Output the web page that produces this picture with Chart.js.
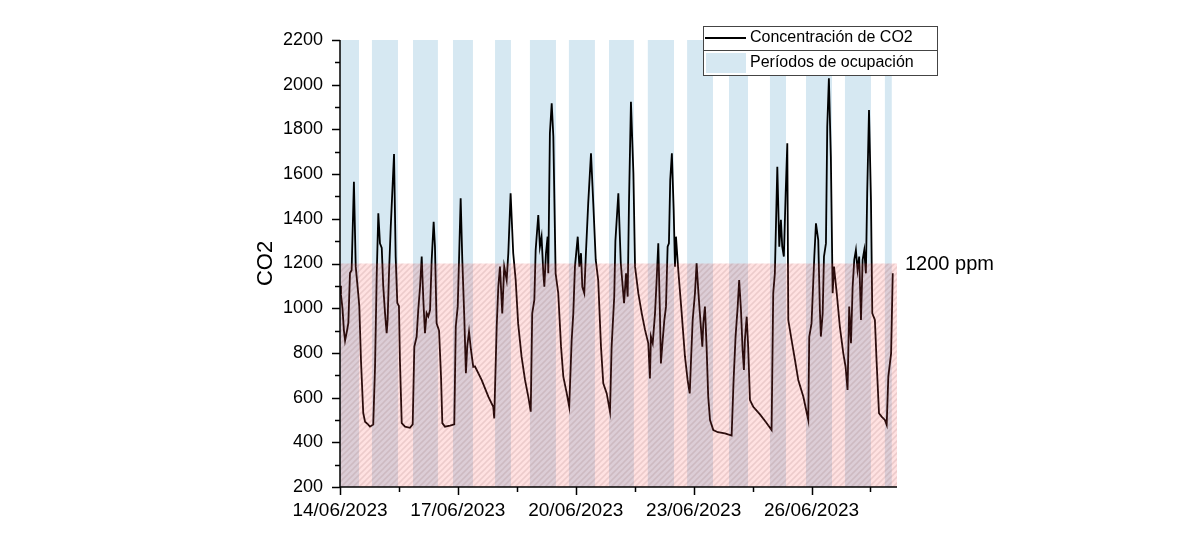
<!DOCTYPE html>
<html>
<head>
<meta charset="utf-8">
<script src="https://cdn.jsdelivr.net/npm/chart.js@4.4.0/dist/chart.umd.min.js"></script>
<style>
  body { margin: 0; background: #fff; }
</style>
</head>
<body>
<canvas id="co2-chart" width="1200" height="550"></canvas>
<script>
// hours since 14/06/2023 00:00
const hours = [
  0, 0.6, 1.5, 2.4, 3.1, 4.3, 5.1, 6.1, 7.1, 8.5, 9.6, 11.2, 11.8, 12.8, 14.2, 15.3, 17.1, 18.3, 20.3,
  21.4, 22.4, 23.4, 24.4, 25.5, 26.4, 27.5, 28.5, 29.1, 29.9, 31.0, 33.0, 34.0, 35.0, 36.0, 36.6, 37.7,
  39.7, 42.7, 44.4, 45.4, 46.8, 47.8, 48.9, 49.9, 50.9, 51.9, 52.9, 53.9, 55.0, 56.0, 57.2, 58.0, 59.0,
  60.5, 61.7, 62.5, 64.1, 67.2, 69.8, 70.7, 71.9, 72.7, 73.7, 74.7, 75.9, 76.9, 77.7, 78.8, 80.0, 81.4,
  82.4, 86.5, 90.6, 93.6, 94.2, 95.7, 96.7, 97.7, 99.1, 100.3, 101.8, 102.8, 104.2, 105.8, 107.3, 108.8,
  110.9, 113.0, 115.0, 116.5, 117.4, 118.7, 119.5, 121.1, 122.1, 123.1, 124.2, 124.8, 125.8, 126.8, 127.2,
  128.2, 129.3, 130.3, 131.7, 133.3, 135.0, 136.4, 138.5, 140.0, 141.5, 142.5, 143.5, 145.2, 146.2, 147.2,
  148.0, 149.2, 150.2, 151.6, 153.3, 154.7, 156.2, 157.7, 159.4, 160.8, 162.9, 164.9, 165.9, 167.5, 168.2,
  170.0, 171.5, 173.5, 174.7, 175.7, 176.5, 177.7, 179.2, 180.2, 182.2, 184.3, 186.3, 188.3, 189.3, 189.9,
  191.0, 192.4, 193.4, 194.4, 195.4, 196.0, 197.1, 198.1, 199.1, 200.1, 200.9, 201.7, 202.7, 203.8, 204.6,
  205.2, 206.6, 208.7, 210.7, 212.3, 213.6, 214.4, 215.4, 216.8, 217.8, 218.8, 219.8, 221.3, 221.9, 222.9,
  223.9, 224.9, 226.0, 228.0, 230.8, 235.1, 239.2, 240.4, 241.6, 242.9, 243.8, 244.9, 245.9, 246.7, 247.3,
  248.4, 249.3, 250.4, 252.4, 256.5, 260.2, 263.6, 264.6, 265.6, 267.1, 268.3, 269.3, 270.1, 271.1, 272.2,
  273.2, 273.8, 275.8, 277.9, 279.9, 283.0, 286.0, 286.6, 288.0, 289.7, 290.7, 292.1, 293.1, 293.7, 294.8,
  295.6, 296.8, 297.6, 298.6, 299.8, 300.9, 301.7, 303.4, 305.3, 307.4, 308.8, 310.0, 311.0, 312.1, 313.1,
  314.1, 315.1, 316.1, 317.1, 318.2, 319.2, 320.2, 321.2, 322.0, 323.1, 324.3, 325.1, 326.7, 327.7, 329.2,
  330.8, 332.8, 333.9, 334.9, 336.6, 337.6
];
const co2 = [
  1100, 1060, 1000, 900, 855, 900, 934, 1157, 1170, 1566, 1186, 1060, 1007, 768, 531, 492, 480, 470, 480,
  738, 1141, 1425, 1290, 1270, 1100, 978, 888, 950, 1150, 1365, 1690, 1230, 1023, 1010, 768, 486,
  470, 465, 480, 828, 872, 992, 1096, 1231, 1037, 888, 978, 963, 992, 1216, 1387, 1275, 932,
  900, 694, 486, 470, 475, 480, 918, 1007, 1216, 1492, 1216, 963, 709, 828, 895, 813, 738,
  740, 679, 604, 559, 507, 918, 1096, 1186, 977, 1186, 1126, 1246, 1514, 1246, 1126, 932,
  783, 679, 604, 537, 977, 1037, 1260, 1417, 1275, 1320, 1156, 1096, 1246, 1320, 1156,
  1783, 1917, 1768, 1156, 1067, 828, 694, 619, 559, 858, 977, 1186, 1320, 1186, 1246,
  1096, 1067, 1246, 1469, 1693, 1469, 1216, 1126, 828, 664, 619, 537, 828, 1052, 1300,
  1514, 1201, 1022, 1156, 1052, 1469, 1924, 1604, 1186, 1067, 977, 903, 843, 686, 873,
  843, 977, 1126, 1290, 977, 753, 858, 947, 1007, 1275, 1290, 1574, 1693, 1439, 1186,
  1320, 1171, 977, 783, 679, 619, 768, 947, 1067, 1201, 1082, 977, 828, 932, 1007,
  828, 604, 500, 455, 445, 440, 430, 679, 873, 1007, 1126, 992, 813, 724, 858,
  962, 828, 589, 559, 525, 490, 455, 1067, 1156, 1633, 1275, 1395, 1275, 1231, 1514,
  1738, 947, 858, 768, 679, 604, 500, 872, 932, 1231, 1380, 1305, 992, 873, 977,
  1231, 1290, 1812, 2029, 1678, 1067, 1186, 1067, 917, 798, 738, 634, 1007, 843, 1096,
  1216, 1260, 1171, 1231, 947, 1216, 1260, 1156, 1514, 1887, 1484, 977, 947, 768, 530,
  515, 500, 478, 694, 798, 1156
];

// occupancy periods (hours since start)
const bandStart = [0, 19.5, 44.6, 69, 94.7, 116, 139.8, 164.3, 188, 212, 237.6, 262.6, 284.6, 308.4, 332.8];
const bandEnd = [11.6, 35.4, 59.8, 81.2, 104.4, 131.9, 155.7, 179.5, 204, 227.8, 249.2, 272.4, 300.5, 324.3, 337];

const limit = 1200;
const startDate = new Date(2023, 5, 14);
const xMax = 340.2;

const FONT = '"Liberation Sans", Arial, sans-serif';
const bandColor = 'rgb(214,232,242)';

function makeHatch() {
  const c = document.createElement('canvas');
  c.width = 6; c.height = 6;
  const g = c.getContext('2d');
  g.fillStyle = 'rgba(255,70,70,0.16)';
  g.fillRect(0, 0, 6, 6);
  g.strokeStyle = 'rgba(110,50,50,0.12)';
  g.lineWidth = 1.6;
  g.beginPath();
  g.moveTo(0, 6); g.lineTo(6, 0);
  g.moveTo(-3, 3); g.lineTo(3, -3);
  g.moveTo(3, 9); g.lineTo(9, 3);
  g.stroke();
  return c;
}

const fmtDate = (v) => {
  const d = new Date(startDate.getTime() + v * 3600000);
  const dd = String(d.getDate()).padStart(2, '0');
  const mm = String(d.getMonth() + 1).padStart(2, '0');
  return dd + '/' + mm + '/' + d.getFullYear();
};

const bandsPlugin = {
  id: 'bands',
  beforeDatasetsDraw(chart) {
    const { ctx, chartArea: a, scales: { x } } = chart;
    ctx.save();
    ctx.fillStyle = bandColor;
    bandStart.forEach((s, i) => {
      const x0 = x.getPixelForValue(s);
      const x1 = x.getPixelForValue(bandEnd[i]);
      ctx.fillRect(x0, a.top, x1 - x0, a.bottom - a.top);
    });
    ctx.restore();
  },
  afterDatasetsDraw(chart) {
    const { ctx, chartArea: a, scales: { y } } = chart;
    const yl = y.getPixelForValue(limit);
    ctx.save();
    ctx.fillStyle = ctx.createPattern(makeHatch(), 'repeat');
    ctx.fillRect(a.left, yl, a.right - a.left, a.bottom - yl);
    ctx.fillStyle = '#000';
    ctx.font = '20px ' + FONT;
    ctx.textBaseline = 'middle';
    ctx.fillText('1200 ppm', a.right + 8, yl + 1);
    ctx.restore();
  },
  afterDraw(chart) {
    const { ctx, chartArea: a, scales: { x, y } } = chart;
    ctx.save();
    // axis lines and tick marks
    ctx.strokeStyle = '#000';
    ctx.lineWidth = 1.5;
    ctx.beginPath();
    ctx.moveTo(a.left, a.top); ctx.lineTo(a.left, a.bottom); ctx.lineTo(a.right, a.bottom);
    y.ticks.forEach(t => {
      const py = Math.round(y.getPixelForValue(t.value)) + 0.5;
      const len = t.value % 200 === 0 ? 8 : 5;
      ctx.moveTo(a.left, py); ctx.lineTo(a.left - len, py);
    });
    x.ticks.forEach(t => {
      const px = Math.round(x.getPixelForValue(t.value)) + 0.5;
      const len = t.value % 72 === 0 ? 8 : 5;
      ctx.moveTo(px, a.bottom); ctx.lineTo(px, a.bottom + len);
    });
    ctx.stroke();

    // axis title
    ctx.fillStyle = '#000';
    ctx.font = '22px ' + FONT;
    ctx.translate(266, (a.top + a.bottom) / 2);
    ctx.rotate(-Math.PI / 2);
    ctx.textAlign = 'center';
    ctx.textBaseline = 'middle';
    ctx.fillText('CO2', 0, 0);
    ctx.setTransform(1, 0, 0, 1, 0, 0);
    ctx.textAlign = 'left';

    // legend
    const lx = 703, ly = 26, lw = 234, lh = 49;
    ctx.fillStyle = '#fff';
    ctx.fillRect(lx, ly, lw, lh);
    ctx.strokeStyle = '#444';
    ctx.lineWidth = 1;
    ctx.strokeRect(lx + 0.5, ly + 0.5, lw, lh);
    ctx.beginPath();
    ctx.moveTo(lx, ly + 24.5); ctx.lineTo(lx + lw, ly + 24.5);
    ctx.stroke();
    ctx.strokeStyle = '#000';
    ctx.lineWidth = 2;
    ctx.beginPath();
    ctx.moveTo(lx + 2, ly + 12); ctx.lineTo(lx + 43, ly + 12);
    ctx.stroke();
    ctx.fillStyle = bandColor;
    ctx.fillRect(lx + 3, ly + 27, 40, 20);
    ctx.fillStyle = '#000';
    ctx.font = '16px ' + FONT;
    ctx.textBaseline = 'middle';
    ctx.fillText('Concentración de CO2', lx + 47, ly + 12);
    ctx.fillText('Períodos de ocupación', lx + 47, ly + 37);
    ctx.restore();
  }
};

const ctx = document.getElementById('co2-chart').getContext('2d');
new Chart(ctx, {
  type: 'line',
  data: {
    datasets: [{
      label: 'Concentración de CO2',
      data: hours.map((h, i) => ({ x: h, y: co2[i] })),
      borderColor: '#000',
      borderWidth: 1.8,
      pointRadius: 0,
      tension: 0,
      fill: false
    }]
  },
  options: {
    responsive: false,
    animation: false,
    events: [],
    layout: { padding: { top: 40, right: 303, bottom: 0, left: 0 } },
    plugins: { legend: { display: false }, tooltip: { enabled: false } },
    scales: {
      x: {
        type: 'linear',
        min: 0,
        max: xMax,
        afterFit: s => { s.height = 63; },
        grid: { display: false, drawTicks: false },
        border: { display: false },
        ticks: {
          stepSize: 36,
          includeBounds: false,
          autoSkip: false,
          maxRotation: 0,
          padding: 12,
          color: '#000',
          font: { family: FONT, size: 19 },
          callback: v => (v % 72 === 0 ? fmtDate(v) : '')
        }
      },
      y: {
        min: 200,
        max: 2200,
        afterFit: s => { s.width = 340; },
        grid: { display: false, drawTicks: false },
        border: { display: false },
        ticks: {
          stepSize: 100,
          autoSkip: false,
          padding: 17,
          color: '#000',
          font: { family: FONT, size: 18 },
          callback: v => (v % 200 === 0 ? v : '')
        }
      }
    }
  },
  plugins: [bandsPlugin]
});
</script>
</body>
</html>
